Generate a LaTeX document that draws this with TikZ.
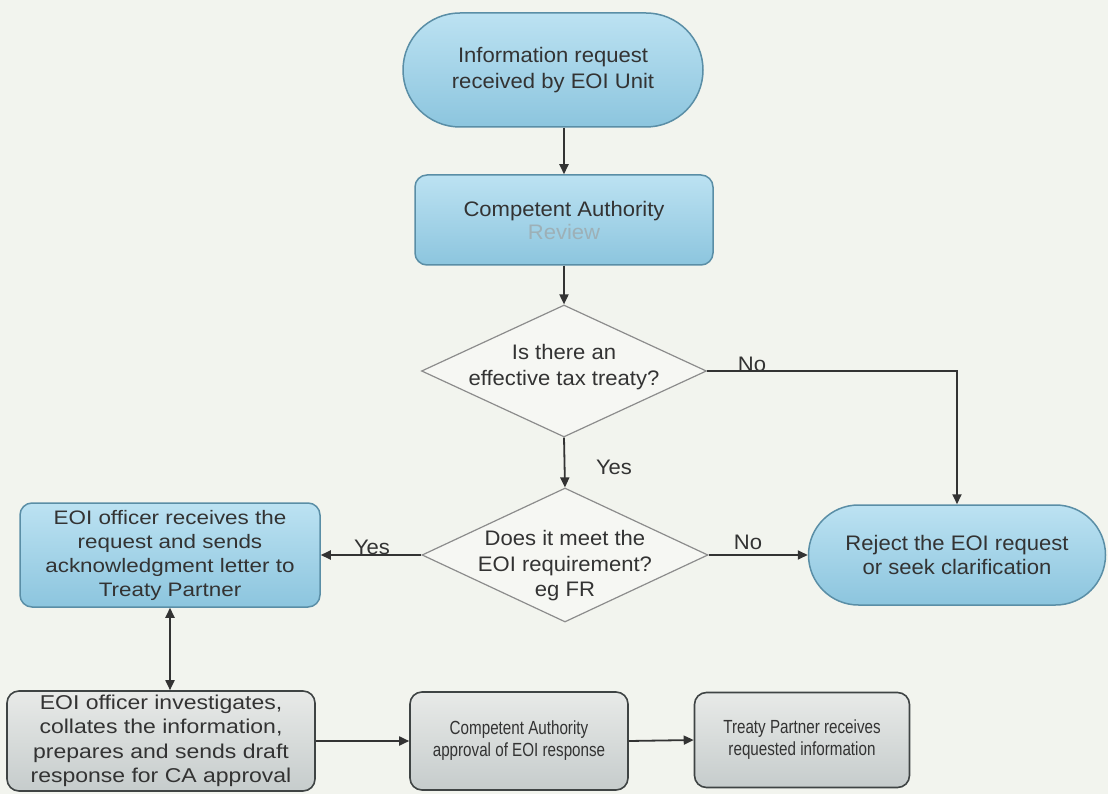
\documentclass[tikz,border=0pt]{standalone}
\usepackage{fontspec}
\setmainfont{Liberation Sans}[FakeStretch=1.05]
\newfontfamily\widesans{Liberation Sans}[FakeStretch=1.15]
\newfontfamily\narrowsans{Liberation Sans}[FakeStretch=0.8]
\usetikzlibrary{shapes.geometric,shapes.misc,arrows.meta}

\definecolor{bg}{HTML}{F2F4EE}
\definecolor{ink}{HTML}{333333}
\definecolor{blueedge}{HTML}{5A8EA6}
\definecolor{bluetop}{HTML}{BCE2F2}
\definecolor{bluebot}{HTML}{8CC5DE}
\definecolor{grayedge}{HTML}{3F4444}
\definecolor{graytop}{HTML}{E8EAE8}
\definecolor{graybot}{HTML}{C6CCCC}
\definecolor{diaedge}{HTML}{8C8C8C}
\definecolor{diafill}{HTML}{F6F7F3}
\definecolor{faded}{HTML}{9DB0B7}

\tikzset{
  txt/.style={font=\fontsize{21}{25.5}\selectfont, text=ink, align=center},
  widetxt/.style={font=\widesans\fontsize{20}{24.5}\selectfont},
  narrowtxt/.style={font=\narrowsans\fontsize{19}{22}\selectfont},
  bluebox/.style={txt, rectangle, rounded corners=12pt, draw=blueedge, line width=1.5pt,
    top color=bluetop, bottom color=bluebot, inner sep=0pt},
  terminal/.style={txt, rounded rectangle, draw=blueedge, line width=1.5pt,
    top color=bluetop, bottom color=bluebot, inner sep=0pt},
  graybox/.style={txt, rectangle, rounded corners=12pt, draw=grayedge, line width=1.6pt,
    top color=graytop, bottom color=graybot, inner sep=0pt},
  decision/.style={diamond, draw=diaedge, fill=diafill, line width=1.2pt, inner sep=0pt},
  flow/.style={draw=ink, line width=1.8pt, -{Triangle[length=10pt,width=9pt]}},
  both/.style={draw=ink, line width=1.8pt, {Triangle[length=10pt,width=9pt]}-{Triangle[length=10pt,width=9pt]}},
  lbl/.style={txt, inner sep=0pt}
}

\begin{document}
\begin{tikzpicture}[x=1pt,y=-1pt]
  \fill[bg] (0,0) rectangle (1108,794);
  \useasboundingbox (0,0) rectangle (1108,794);

  % process nodes
  \node[terminal, minimum width=300pt, minimum height=114pt] (start) at (553,70)
    {Information request\\received by EOI Unit};
  \node[bluebox, minimum width=298pt, minimum height=90pt, font=\fontsize{21}{23}\selectfont] (review) at (564,220)
    {Competent Authority\\\textcolor{faded}{Review}};
  \node[decision, minimum width=285pt, minimum height=132pt] (d1) at (564,371) {};
  \node[txt] (d1text) at (564,367) {Is there an\\effective tax treaty?};
  \node[decision, minimum width=286pt, minimum height=134pt] (d2) at (565,555) {};
  \node[txt] (d2text) at (565,566) {Does it meet the\\EOI requirement?\\eg FR};
  \node[terminal, minimum width=297pt, minimum height=100pt, font=\fontsize{21}{23.5}\selectfont] (reject) at (957,555)
    {Reject the EOI request\\or seek clarification};
  \node[bluebox, font=\widesans\fontsize{19.5}{24}\selectfont, minimum width=300pt, minimum height=104pt] (recv) at (170,555)
    {EOI officer receives the\\request and sends\\acknowledgment letter to\\Treaty Partner};
  \node[graybox, widetxt, minimum width=308pt, minimum height=100pt] (invest) at (161,741)
    {EOI officer investigates,\\collates the information,\\prepares and sends draft\\response for CA approval};
  \node[graybox, narrowtxt, minimum width=218pt, minimum height=98pt] (approve) at (519,741)
    {Competent Authority\\approval of EOI response};
  \node[graybox, narrowtxt, minimum width=215pt, minimum height=95pt] (partner) at (802,740)
    {Treaty Partner receives\\requested information};

  % connectors
  \draw[flow] (start.south -| review.north) -- (review.north);
  \draw[flow] (review.south) -- (d1.north);
  \draw[flow] (d1.south) -- (d2.north);
  \draw[flow] (d1.east) -| (reject.north);
  \draw[flow] (d2.east) -- (reject.west);
  \draw[flow] (d2.west) -- (recv.east);
  \draw[both] (recv.south) -- (recv.south |- invest.north);
  \draw[flow] (invest.east) -- (approve.west);
  \draw[flow] (approve.east) -- (partner.west);

  % branch labels
  \node[lbl] (no1) at (752,364) {No};
  \node[lbl] (yes1) at (614,467) {Yes};
  \node[lbl] (no2) at (748,542) {No};
  \node[lbl] (yes2) at (372,547) {Yes};
\end{tikzpicture}
\end{document}
